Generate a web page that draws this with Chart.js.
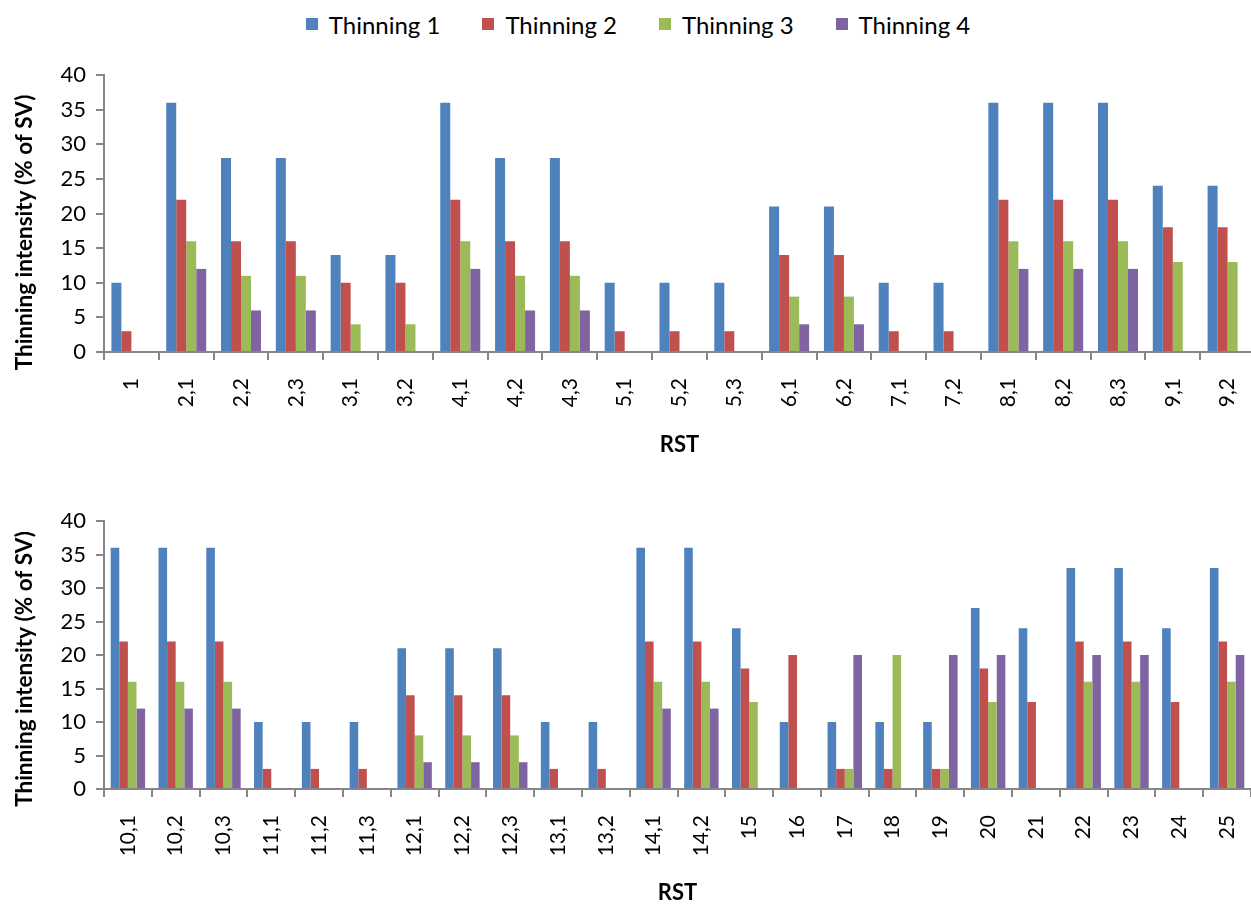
<!DOCTYPE html>
<html>
<head>
<meta charset="utf-8">
<title>Thinning intensity by RST</title>
<script src="https://cdn.jsdelivr.net/npm/chart.js@4.4.1/dist/chart.umd.min.js"></script>
<style>
  html, body { margin: 0; padding: 0; background: #fff; overflow: hidden; width: 1251px; height: 905px; }
  #legend { position: absolute; left: 0; top: 0; width: 1276px; height: 48px; display: flex; justify-content: center; align-items: center; font-family: Lato, sans-serif; font-size: 24px; color: #000; }
  #legend .item { display: flex; align-items: center; margin: 0 21px; }
  #legend .swatch { width: 12px; height: 12px; margin-right: 11px; }
  #topWrap { position: absolute; left: 0; top: 0; }
  #bottomWrap { position: absolute; left: 0; top: 470px; }
  canvas { display: block; }
</style>
</head>
<body>
<div id="legend"></div>
<div id="topWrap"><canvas id="topChart" width="1255" height="470"></canvas></div>
<div id="bottomWrap"><canvas id="bottomChart" width="1251" height="435"></canvas></div>
<script>
// Series shared by both panels
const seriesNames = ['Thinning 1', 'Thinning 2', 'Thinning 3', 'Thinning 4'];
const seriesColors = ['#4F81BD', '#C0504D', '#9BBB59', '#8064A2'];

// Upper panel: RST 1 – 9,2
const topCategories = ['1', '2,1', '2,2', '2,3', '3,1', '3,2', '4,1', '4,2', '4,3', '5,1', '5,2', '5,3', '6,1', '6,2', '7,1', '7,2', '8,1', '8,2', '8,3', '9,1', '9,2'];
const topThinning1 = [10, 36, 28, 28, 14, 14, 36, 28, 28, 10, 10, 10, 21, 21, 10, 10, 36, 36, 36, 24, 24];
const topThinning2 = [3, 22, 16, 16, 10, 10, 22, 16, 16, 3, 3, 3, 14, 14, 3, 3, 22, 22, 22, 18, 18];
const topThinning3 = [null, 16, 11, 11, 4, 4, 16, 11, 11, null, null, null, 8, 8, null, null, 16, 16, 16, 13, 13];
const topThinning4 = [null, 12, 6, 6, null, null, 12, 6, 6, null, null, null, 4, 4, null, null, 12, 12, 12, null, null];

// Lower panel: RST 10,1 – 25
const bottomCategories = ['10,1', '10,2', '10,3', '11,1', '11,2', '11,3', '12,1', '12,2', '12,3', '13,1', '13,2', '14,1', '14,2', '15', '16', '17', '18', '19', '20', '21', '22', '23', '24', '25'];
const bottomThinning1 = [36, 36, 36, 10, 10, 10, 21, 21, 21, 10, 10, 36, 36, 24, 10, 10, 10, 10, 27, 24, 33, 33, 24, 33];
const bottomThinning2 = [22, 22, 22, 3, 3, 3, 14, 14, 14, 3, 3, 22, 22, 18, 20, 3, 3, 3, 18, 13, 22, 22, 13, 22];
const bottomThinning3 = [16, 16, 16, null, null, null, 8, 8, 8, null, null, 16, 16, 13, null, 3, 20, 3, 13, null, 16, 16, null, 16];
const bottomThinning4 = [12, 12, 12, null, null, null, 4, 4, 4, null, null, 12, 12, null, null, 20, null, 20, 20, null, 20, 20, null, 20];

// Value axis
const yMin = 0;
const yMax = 40;
const yStep = 5;

const xTitle = 'RST';
const yTitle = 'Thinning intensity (% of SV)';

const axisColor = '#868686';
const fontFamily = 'Lato, sans-serif';

// Shared legend above both panels
const legendEl = document.getElementById('legend');
seriesNames.forEach((name, i) => {
  const item = document.createElement('div');
  item.className = 'item';
  const sw = document.createElement('span');
  sw.className = 'swatch';
  sw.style.background = seriesColors[i];
  const txt = document.createElement('span');
  txt.textContent = name;
  item.appendChild(sw);
  item.appendChild(txt);
  legendEl.appendChild(item);
});

// Vertical value-axis title, centred a little below the middle of the axis
function valueTitlePlugin(shift) {
  return {
    id: 'valueTitle',
    afterDraw(chart) {
      const y = chart.scales.y;
      const ctx = chart.ctx;
      ctx.save();
      ctx.translate(25, (y.top + y.bottom) / 2 + shift);
      ctx.rotate(-Math.PI / 2);
      ctx.textAlign = 'center';
      ctx.textBaseline = 'middle';
      ctx.fillStyle = '#000';
      ctx.font = 'bold 22.5px ' + fontFamily;
      ctx.fillText(yTitle, 0, 0);
      ctx.restore();
    }
  };
}

function buildPanel(canvasId, categories, seriesValues, cfg) {
  const datasets = seriesValues.map((vals, i) => ({
    label: seriesNames[i],
    data: vals,
    backgroundColor: seriesColors[i],
    borderWidth: 0,
    categoryPercentage: cfg.groupWidth,
    barPercentage: 1
  }));
  return new Chart(document.getElementById(canvasId), {
    type: 'bar',
    data: { labels: categories, datasets },
    plugins: [valueTitlePlugin(cfg.titleShift)],
    options: {
      responsive: false,
      animation: false,
      devicePixelRatio: 1,
      layout: { padding: { top: cfg.padTop, left: 0, right: 0, bottom: 0 } },
      plugins: { legend: { display: false }, tooltip: { enabled: false } },
      scales: {
        x: {
          grid: { offset: true, drawOnChartArea: false, drawTicks: true, tickLength: 8, color: axisColor, lineWidth: 2 },
          border: { display: true, color: axisColor, width: 2 },
          ticks: { minRotation: 90, maxRotation: 90, autoSkip: false, padding: 18, color: '#000', font: { family: fontFamily, size: 21 } },
          title: { display: true, text: xTitle, color: '#000', font: { family: fontFamily, size: 22, weight: 'bold', lineHeight: 1 }, padding: { top: 0, bottom: cfg.xTitleBottom } },
          afterFit(scale) {
            scale.height = cfg.xHeight;
            scale.paddingLeft = 0;
            scale.paddingRight = 0;
          }
        },
        y: {
          min: yMin,
          max: yMax,
          grid: { drawOnChartArea: false, drawTicks: true, tickLength: 8, color: axisColor, lineWidth: 2 },
          border: { display: true, color: axisColor, width: 2 },
          ticks: { stepSize: yStep, padding: 10, color: '#000', font: { family: fontFamily, size: 22 } },
          title: { display: false },
          afterFit(scale) { scale.width = 104; }
        }
      }
    }
  });
}

buildPanel('topChart', topCategories, [topThinning1, topThinning2, topThinning3, topThinning4],
  { groupWidth: 0.73, padTop: 75, xHeight: 118, xTitleBottom: 14, titleShift: 19 });
buildPanel('bottomChart', bottomCategories, [bottomThinning1, bottomThinning2, bottomThinning3, bottomThinning4],
  { groupWidth: 0.72, padTop: 51, xHeight: 116, xTitleBottom: 1, titleShift: 14 });
</script>
</body>
</html>
